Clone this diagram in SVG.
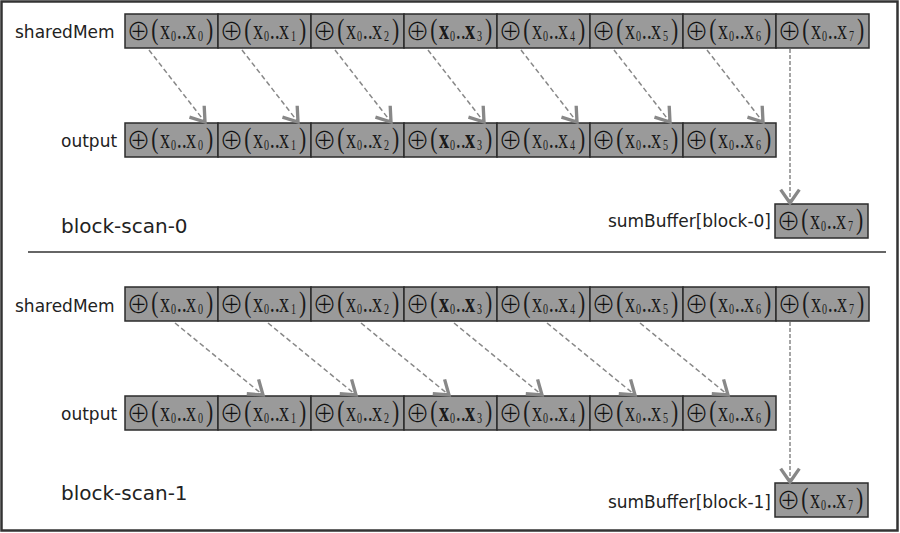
<svg xmlns="http://www.w3.org/2000/svg" width="900" height="533" viewBox="0 0 900 533">
<style>
.frame{fill:#fff;stroke:#333;stroke-width:2.5}
.sep{stroke:#333;stroke-width:1.5}
.cell{fill:#9a9a9a;stroke:#2b2b2b;stroke-width:1.5}
.op{font-family:"Noto Sans CJK SC","DejaVu Sans",sans-serif;font-weight:300;font-size:24px;fill:#111;text-anchor:middle}
.ex{font-family:"Liberation Serif",serif;font-size:28px;fill:#1a1a1a}
.ex .p{font-size:30px}
.ex .sb{font-size:14px}
.b{font-weight:bold}
.lbl{font-family:"DejaVu Sans",sans-serif;font-size:17px;fill:#222}
.ttl{font-family:"DejaVu Sans",sans-serif;font-size:20px;fill:#222}
.arr{fill:none;stroke:#888;stroke-width:1.5;stroke-dasharray:5 3;marker-end:url(#ah)}
.varr{fill:none;stroke:#888;stroke-width:1.5;stroke-dasharray:4 2;marker-end:url(#ah)}
</style>
<defs>
<marker id="ah" markerUnits="userSpaceOnUse" markerWidth="24" markerHeight="24" viewBox="-13 -9 15 18" refX="0" refY="0" orient="auto">
<path d="M-10,-7 L0,0 L-10,7" fill="none" stroke="#888" stroke-width="2.5"/>
</marker>
</defs>
<rect class="frame" x="1.5" y="1.5" width="896" height="529"/>
<line class="sep" x1="28" y1="252" x2="886" y2="252"/>

<g id="labels">
<text class="lbl" x="15" y="38">sharedMem</text>
<text class="lbl" x="61" y="147">output</text>
<text class="ttl" x="61" y="233">block-scan-0</text>
<text class="lbl" x="771" y="227" text-anchor="end">sumBuffer[block-0]</text>
<text class="lbl" x="15" y="312">sharedMem</text>
<text class="lbl" x="61" y="420">output</text>
<text class="ttl" x="61" y="500">block-scan-1</text>
<text class="lbl" x="771" y="508" text-anchor="end">sumBuffer[block-1]</text>
</g>

<!-- block 0 sharedMem -->
<g id="b0-shared-0" transform="translate(125,14)"><rect class="cell" width="93" height="34"/><text class="op" x="13.5" y="26">⊕</text><text class="ex" y="24.5" transform="scale(.72 1)"><tspan class="p" x="36.5">(</tspan><tspan x="48.6">x</tspan><tspan class="sb" x="63.9" dy="2.5">0</tspan><tspan x="72" dy="-2.5">..</tspan><tspan x="84.7">x</tspan><tspan class="sb" x="101.4" dy="2.5">0</tspan><tspan class="p" x="112.5" dy="-2.5">)</tspan></text></g>
<g id="b0-shared-1" transform="translate(218,14)"><rect class="cell" width="93" height="34"/><text class="op" x="13.5" y="26">⊕</text><text class="ex" y="24.5" transform="scale(.72 1)"><tspan class="p" x="36.5">(</tspan><tspan x="48.6">x</tspan><tspan class="sb" x="63.9" dy="2.5">0</tspan><tspan x="72" dy="-2.5">..</tspan><tspan x="84.7">x</tspan><tspan class="sb" x="101.4" dy="2.5">1</tspan><tspan class="p" x="112.5" dy="-2.5">)</tspan></text></g>
<g id="b0-shared-2" transform="translate(311,14)"><rect class="cell" width="93" height="34"/><text class="op" x="13.5" y="26">⊕</text><text class="ex" y="24.5" transform="scale(.72 1)"><tspan class="p" x="36.5">(</tspan><tspan x="48.6">x</tspan><tspan class="sb" x="63.9" dy="2.5">0</tspan><tspan x="72" dy="-2.5">..</tspan><tspan x="84.7">x</tspan><tspan class="sb" x="101.4" dy="2.5">2</tspan><tspan class="p" x="112.5" dy="-2.5">)</tspan></text></g>
<g id="b0-shared-3" transform="translate(404,14)"><rect class="cell" width="93" height="34"/><text class="op" x="13.5" y="26">⊕</text><text class="ex" y="24.5" transform="scale(.72 1)"><tspan class="p" x="36.5">(</tspan><tspan class="b" x="48.6">x</tspan><tspan class="sb" x="63.9" dy="2.5">0</tspan><tspan x="72" dy="-2.5">..</tspan><tspan class="b" x="84.7">x</tspan><tspan class="sb" x="101.4" dy="2.5">3</tspan><tspan class="p" x="112.5" dy="-2.5">)</tspan></text></g>
<g id="b0-shared-4" transform="translate(497,14)"><rect class="cell" width="93" height="34"/><text class="op" x="13.5" y="26">⊕</text><text class="ex" y="24.5" transform="scale(.72 1)"><tspan class="p" x="36.5">(</tspan><tspan x="48.6">x</tspan><tspan class="sb" x="63.9" dy="2.5">0</tspan><tspan x="72" dy="-2.5">..</tspan><tspan x="84.7">x</tspan><tspan class="sb" x="101.4" dy="2.5">4</tspan><tspan class="p" x="112.5" dy="-2.5">)</tspan></text></g>
<g id="b0-shared-5" transform="translate(590,14)"><rect class="cell" width="93" height="34"/><text class="op" x="13.5" y="26">⊕</text><text class="ex" y="24.5" transform="scale(.72 1)"><tspan class="p" x="36.5">(</tspan><tspan x="48.6">x</tspan><tspan class="sb" x="63.9" dy="2.5">0</tspan><tspan x="72" dy="-2.5">..</tspan><tspan x="84.7">x</tspan><tspan class="sb" x="101.4" dy="2.5">5</tspan><tspan class="p" x="112.5" dy="-2.5">)</tspan></text></g>
<g id="b0-shared-6" transform="translate(683,14)"><rect class="cell" width="93" height="34"/><text class="op" x="13.5" y="26">⊕</text><text class="ex" y="24.5" transform="scale(.72 1)"><tspan class="p" x="36.5">(</tspan><tspan x="48.6">x</tspan><tspan class="sb" x="63.9" dy="2.5">0</tspan><tspan x="72" dy="-2.5">..</tspan><tspan x="84.7">x</tspan><tspan class="sb" x="101.4" dy="2.5">6</tspan><tspan class="p" x="112.5" dy="-2.5">)</tspan></text></g>
<g id="b0-shared-7" transform="translate(776,14)"><rect class="cell" width="93" height="34"/><text class="op" x="13.5" y="26">⊕</text><text class="ex" y="24.5" transform="scale(.72 1)"><tspan class="p" x="36.5">(</tspan><tspan x="48.6">x</tspan><tspan class="sb" x="63.9" dy="2.5">0</tspan><tspan x="72" dy="-2.5">..</tspan><tspan x="84.7">x</tspan><tspan class="sb" x="101.4" dy="2.5">7</tspan><tspan class="p" x="112.5" dy="-2.5">)</tspan></text></g>

<!-- block 0 output -->
<g id="b0-out-0" transform="translate(125,123)"><rect class="cell" width="93" height="34"/><text class="op" x="13.5" y="26">⊕</text><text class="ex" y="24.5" transform="scale(.72 1)"><tspan class="p" x="36.5">(</tspan><tspan x="48.6">x</tspan><tspan class="sb" x="63.9" dy="2.5">0</tspan><tspan x="72" dy="-2.5">..</tspan><tspan x="84.7">x</tspan><tspan class="sb" x="101.4" dy="2.5">0</tspan><tspan class="p" x="112.5" dy="-2.5">)</tspan></text></g>
<g id="b0-out-1" transform="translate(218,123)"><rect class="cell" width="93" height="34"/><text class="op" x="13.5" y="26">⊕</text><text class="ex" y="24.5" transform="scale(.72 1)"><tspan class="p" x="36.5">(</tspan><tspan x="48.6">x</tspan><tspan class="sb" x="63.9" dy="2.5">0</tspan><tspan x="72" dy="-2.5">..</tspan><tspan x="84.7">x</tspan><tspan class="sb" x="101.4" dy="2.5">1</tspan><tspan class="p" x="112.5" dy="-2.5">)</tspan></text></g>
<g id="b0-out-2" transform="translate(311,123)"><rect class="cell" width="93" height="34"/><text class="op" x="13.5" y="26">⊕</text><text class="ex" y="24.5" transform="scale(.72 1)"><tspan class="p" x="36.5">(</tspan><tspan x="48.6">x</tspan><tspan class="sb" x="63.9" dy="2.5">0</tspan><tspan x="72" dy="-2.5">..</tspan><tspan x="84.7">x</tspan><tspan class="sb" x="101.4" dy="2.5">2</tspan><tspan class="p" x="112.5" dy="-2.5">)</tspan></text></g>
<g id="b0-out-3" transform="translate(404,123)"><rect class="cell" width="93" height="34"/><text class="op" x="13.5" y="26">⊕</text><text class="ex" y="24.5" transform="scale(.72 1)"><tspan class="p" x="36.5">(</tspan><tspan class="b" x="48.6">x</tspan><tspan class="sb" x="63.9" dy="2.5">0</tspan><tspan x="72" dy="-2.5">..</tspan><tspan class="b" x="84.7">x</tspan><tspan class="sb" x="101.4" dy="2.5">3</tspan><tspan class="p" x="112.5" dy="-2.5">)</tspan></text></g>
<g id="b0-out-4" transform="translate(497,123)"><rect class="cell" width="93" height="34"/><text class="op" x="13.5" y="26">⊕</text><text class="ex" y="24.5" transform="scale(.72 1)"><tspan class="p" x="36.5">(</tspan><tspan x="48.6">x</tspan><tspan class="sb" x="63.9" dy="2.5">0</tspan><tspan x="72" dy="-2.5">..</tspan><tspan x="84.7">x</tspan><tspan class="sb" x="101.4" dy="2.5">4</tspan><tspan class="p" x="112.5" dy="-2.5">)</tspan></text></g>
<g id="b0-out-5" transform="translate(590,123)"><rect class="cell" width="93" height="34"/><text class="op" x="13.5" y="26">⊕</text><text class="ex" y="24.5" transform="scale(.72 1)"><tspan class="p" x="36.5">(</tspan><tspan x="48.6">x</tspan><tspan class="sb" x="63.9" dy="2.5">0</tspan><tspan x="72" dy="-2.5">..</tspan><tspan x="84.7">x</tspan><tspan class="sb" x="101.4" dy="2.5">5</tspan><tspan class="p" x="112.5" dy="-2.5">)</tspan></text></g>
<g id="b0-out-6" transform="translate(683,123)"><rect class="cell" width="93" height="34"/><text class="op" x="13.5" y="26">⊕</text><text class="ex" y="24.5" transform="scale(.72 1)"><tspan class="p" x="36.5">(</tspan><tspan x="48.6">x</tspan><tspan class="sb" x="63.9" dy="2.5">0</tspan><tspan x="72" dy="-2.5">..</tspan><tspan x="84.7">x</tspan><tspan class="sb" x="101.4" dy="2.5">6</tspan><tspan class="p" x="112.5" dy="-2.5">)</tspan></text></g>

<g id="b0-sum" transform="translate(775,204)"><rect class="cell" width="93" height="34"/><text class="op" x="13.5" y="26">⊕</text><text class="ex" y="24.5" transform="scale(.72 1)"><tspan class="p" x="36.5">(</tspan><tspan x="48.6">x</tspan><tspan class="sb" x="63.9" dy="2.5">0</tspan><tspan x="72" dy="-2.5">..</tspan><tspan x="84.7">x</tspan><tspan class="sb" x="101.4" dy="2.5">7</tspan><tspan class="p" x="112.5" dy="-2.5">)</tspan></text></g>

<!-- block 1 sharedMem -->
<g id="b1-shared-0" transform="translate(125,287)"><rect class="cell" width="93" height="34"/><text class="op" x="13.5" y="26">⊕</text><text class="ex" y="24.5" transform="scale(.72 1)"><tspan class="p" x="36.5">(</tspan><tspan x="48.6">x</tspan><tspan class="sb" x="63.9" dy="2.5">0</tspan><tspan x="72" dy="-2.5">..</tspan><tspan x="84.7">x</tspan><tspan class="sb" x="101.4" dy="2.5">0</tspan><tspan class="p" x="112.5" dy="-2.5">)</tspan></text></g>
<g id="b1-shared-1" transform="translate(218,287)"><rect class="cell" width="93" height="34"/><text class="op" x="13.5" y="26">⊕</text><text class="ex" y="24.5" transform="scale(.72 1)"><tspan class="p" x="36.5">(</tspan><tspan x="48.6">x</tspan><tspan class="sb" x="63.9" dy="2.5">0</tspan><tspan x="72" dy="-2.5">..</tspan><tspan x="84.7">x</tspan><tspan class="sb" x="101.4" dy="2.5">1</tspan><tspan class="p" x="112.5" dy="-2.5">)</tspan></text></g>
<g id="b1-shared-2" transform="translate(311,287)"><rect class="cell" width="93" height="34"/><text class="op" x="13.5" y="26">⊕</text><text class="ex" y="24.5" transform="scale(.72 1)"><tspan class="p" x="36.5">(</tspan><tspan x="48.6">x</tspan><tspan class="sb" x="63.9" dy="2.5">0</tspan><tspan x="72" dy="-2.5">..</tspan><tspan x="84.7">x</tspan><tspan class="sb" x="101.4" dy="2.5">2</tspan><tspan class="p" x="112.5" dy="-2.5">)</tspan></text></g>
<g id="b1-shared-3" transform="translate(404,287)"><rect class="cell" width="93" height="34"/><text class="op" x="13.5" y="26">⊕</text><text class="ex" y="24.5" transform="scale(.72 1)"><tspan class="p" x="36.5">(</tspan><tspan class="b" x="48.6">x</tspan><tspan class="sb" x="63.9" dy="2.5">0</tspan><tspan x="72" dy="-2.5">..</tspan><tspan class="b" x="84.7">x</tspan><tspan class="sb" x="101.4" dy="2.5">3</tspan><tspan class="p" x="112.5" dy="-2.5">)</tspan></text></g>
<g id="b1-shared-4" transform="translate(497,287)"><rect class="cell" width="93" height="34"/><text class="op" x="13.5" y="26">⊕</text><text class="ex" y="24.5" transform="scale(.72 1)"><tspan class="p" x="36.5">(</tspan><tspan x="48.6">x</tspan><tspan class="sb" x="63.9" dy="2.5">0</tspan><tspan x="72" dy="-2.5">..</tspan><tspan x="84.7">x</tspan><tspan class="sb" x="101.4" dy="2.5">4</tspan><tspan class="p" x="112.5" dy="-2.5">)</tspan></text></g>
<g id="b1-shared-5" transform="translate(590,287)"><rect class="cell" width="93" height="34"/><text class="op" x="13.5" y="26">⊕</text><text class="ex" y="24.5" transform="scale(.72 1)"><tspan class="p" x="36.5">(</tspan><tspan x="48.6">x</tspan><tspan class="sb" x="63.9" dy="2.5">0</tspan><tspan x="72" dy="-2.5">..</tspan><tspan x="84.7">x</tspan><tspan class="sb" x="101.4" dy="2.5">5</tspan><tspan class="p" x="112.5" dy="-2.5">)</tspan></text></g>
<g id="b1-shared-6" transform="translate(683,287)"><rect class="cell" width="93" height="34"/><text class="op" x="13.5" y="26">⊕</text><text class="ex" y="24.5" transform="scale(.72 1)"><tspan class="p" x="36.5">(</tspan><tspan x="48.6">x</tspan><tspan class="sb" x="63.9" dy="2.5">0</tspan><tspan x="72" dy="-2.5">..</tspan><tspan x="84.7">x</tspan><tspan class="sb" x="101.4" dy="2.5">6</tspan><tspan class="p" x="112.5" dy="-2.5">)</tspan></text></g>
<g id="b1-shared-7" transform="translate(776,287)"><rect class="cell" width="93" height="34"/><text class="op" x="13.5" y="26">⊕</text><text class="ex" y="24.5" transform="scale(.72 1)"><tspan class="p" x="36.5">(</tspan><tspan x="48.6">x</tspan><tspan class="sb" x="63.9" dy="2.5">0</tspan><tspan x="72" dy="-2.5">..</tspan><tspan x="84.7">x</tspan><tspan class="sb" x="101.4" dy="2.5">7</tspan><tspan class="p" x="112.5" dy="-2.5">)</tspan></text></g>

<!-- block 1 output -->
<g id="b1-out-0" transform="translate(125,396)"><rect class="cell" width="93" height="34"/><text class="op" x="13.5" y="26">⊕</text><text class="ex" y="24.5" transform="scale(.72 1)"><tspan class="p" x="36.5">(</tspan><tspan x="48.6">x</tspan><tspan class="sb" x="63.9" dy="2.5">0</tspan><tspan x="72" dy="-2.5">..</tspan><tspan x="84.7">x</tspan><tspan class="sb" x="101.4" dy="2.5">0</tspan><tspan class="p" x="112.5" dy="-2.5">)</tspan></text></g>
<g id="b1-out-1" transform="translate(218,396)"><rect class="cell" width="93" height="34"/><text class="op" x="13.5" y="26">⊕</text><text class="ex" y="24.5" transform="scale(.72 1)"><tspan class="p" x="36.5">(</tspan><tspan x="48.6">x</tspan><tspan class="sb" x="63.9" dy="2.5">0</tspan><tspan x="72" dy="-2.5">..</tspan><tspan x="84.7">x</tspan><tspan class="sb" x="101.4" dy="2.5">1</tspan><tspan class="p" x="112.5" dy="-2.5">)</tspan></text></g>
<g id="b1-out-2" transform="translate(311,396)"><rect class="cell" width="93" height="34"/><text class="op" x="13.5" y="26">⊕</text><text class="ex" y="24.5" transform="scale(.72 1)"><tspan class="p" x="36.5">(</tspan><tspan x="48.6">x</tspan><tspan class="sb" x="63.9" dy="2.5">0</tspan><tspan x="72" dy="-2.5">..</tspan><tspan x="84.7">x</tspan><tspan class="sb" x="101.4" dy="2.5">2</tspan><tspan class="p" x="112.5" dy="-2.5">)</tspan></text></g>
<g id="b1-out-3" transform="translate(404,396)"><rect class="cell" width="93" height="34"/><text class="op" x="13.5" y="26">⊕</text><text class="ex" y="24.5" transform="scale(.72 1)"><tspan class="p" x="36.5">(</tspan><tspan class="b" x="48.6">x</tspan><tspan class="sb" x="63.9" dy="2.5">0</tspan><tspan x="72" dy="-2.5">..</tspan><tspan class="b" x="84.7">x</tspan><tspan class="sb" x="101.4" dy="2.5">3</tspan><tspan class="p" x="112.5" dy="-2.5">)</tspan></text></g>
<g id="b1-out-4" transform="translate(497,396)"><rect class="cell" width="93" height="34"/><text class="op" x="13.5" y="26">⊕</text><text class="ex" y="24.5" transform="scale(.72 1)"><tspan class="p" x="36.5">(</tspan><tspan x="48.6">x</tspan><tspan class="sb" x="63.9" dy="2.5">0</tspan><tspan x="72" dy="-2.5">..</tspan><tspan x="84.7">x</tspan><tspan class="sb" x="101.4" dy="2.5">4</tspan><tspan class="p" x="112.5" dy="-2.5">)</tspan></text></g>
<g id="b1-out-5" transform="translate(590,396)"><rect class="cell" width="93" height="34"/><text class="op" x="13.5" y="26">⊕</text><text class="ex" y="24.5" transform="scale(.72 1)"><tspan class="p" x="36.5">(</tspan><tspan x="48.6">x</tspan><tspan class="sb" x="63.9" dy="2.5">0</tspan><tspan x="72" dy="-2.5">..</tspan><tspan x="84.7">x</tspan><tspan class="sb" x="101.4" dy="2.5">5</tspan><tspan class="p" x="112.5" dy="-2.5">)</tspan></text></g>
<g id="b1-out-6" transform="translate(683,396)"><rect class="cell" width="93" height="34"/><text class="op" x="13.5" y="26">⊕</text><text class="ex" y="24.5" transform="scale(.72 1)"><tspan class="p" x="36.5">(</tspan><tspan x="48.6">x</tspan><tspan class="sb" x="63.9" dy="2.5">0</tspan><tspan x="72" dy="-2.5">..</tspan><tspan x="84.7">x</tspan><tspan class="sb" x="101.4" dy="2.5">6</tspan><tspan class="p" x="112.5" dy="-2.5">)</tspan></text></g>

<g id="b1-sum" transform="translate(775,483)"><rect class="cell" width="93" height="34"/><text class="op" x="13.5" y="26">⊕</text><text class="ex" y="24.5" transform="scale(.72 1)"><tspan class="p" x="36.5">(</tspan><tspan x="48.6">x</tspan><tspan class="sb" x="63.9" dy="2.5">0</tspan><tspan x="72" dy="-2.5">..</tspan><tspan x="84.7">x</tspan><tspan class="sb" x="101.4" dy="2.5">7</tspan><tspan class="p" x="112.5" dy="-2.5">)</tspan></text></g>

<g id="connectors">
<line class="arr" x1="149" y1="50" x2="205" y2="122"/>
<line class="arr" x1="242" y1="50" x2="298" y2="122"/>
<line class="arr" x1="335" y1="50" x2="391" y2="122"/>
<line class="arr" x1="428" y1="50" x2="484" y2="122"/>
<line class="arr" x1="521" y1="50" x2="577" y2="122"/>
<line class="arr" x1="614" y1="50" x2="670" y2="122"/>
<line class="arr" x1="707" y1="50" x2="763" y2="122"/>
<line class="varr" x1="790" y1="49" x2="790" y2="203"/>
<line class="arr" x1="175" y1="323" x2="263" y2="395"/>
<line class="arr" x1="268" y1="323" x2="356" y2="395"/>
<line class="arr" x1="361" y1="323" x2="449" y2="395"/>
<line class="arr" x1="454" y1="323" x2="542" y2="395"/>
<line class="arr" x1="547" y1="323" x2="635" y2="395"/>
<line class="arr" x1="640" y1="323" x2="728" y2="395"/>
<line class="varr" x1="790" y1="322" x2="790" y2="482"/>
</g>
</svg>
